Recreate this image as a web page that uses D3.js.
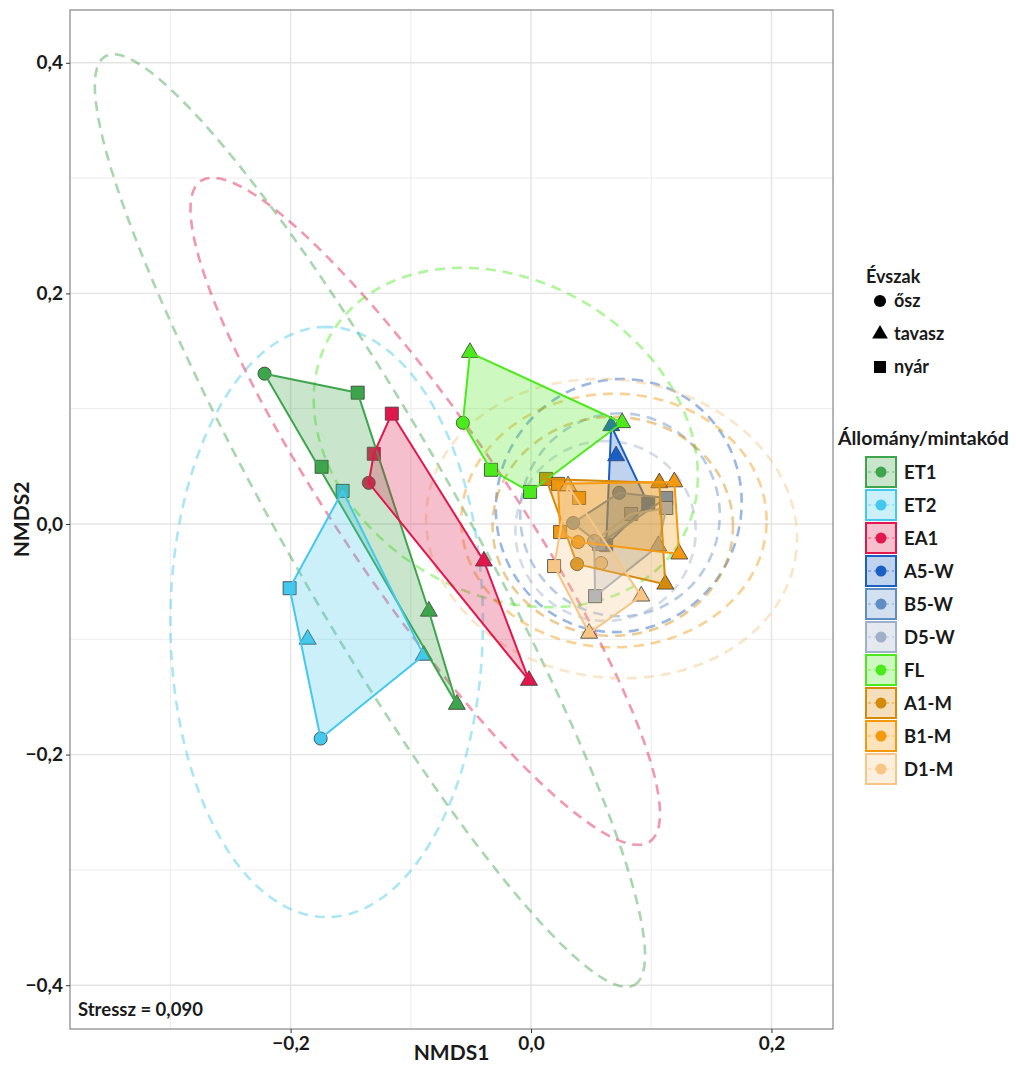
<!DOCTYPE html>
<html>
<head>
<meta charset="utf-8">
<script src="https://cdn.jsdelivr.net/npm/d3@7"></script>
<style>
  body { margin: 0; background: #fff; }
  svg text { font-family: Lato, "Open Sans", sans-serif; font-weight: 700; fill: #1a1a1a; }
</style>
</head>
<body>
<svg id="chart"></svg>
<script>
// 1. DATA *******************************
const groups = ["ET1", "ET2", "EA1", "A5-W", "B5-W", "D5-W", "FL", "A1-M", "B1-M", "D1-M"]
const groupColors = ["#3da54c", "#44c8ee", "#e0184d", "#1a5fc2", "#5f8ec4", "#9fb0c8", "#4cea1c", "#d68a0a", "#f59a10", "#f7c684"]
const seasons = ["ősz", "tavasz", "nyár"]

// one entry per sample
const sampleGroup = [
  "ET1", "ET1", "ET1", "ET1", "ET1",
  "ET2", "ET2", "ET2", "ET2", "ET2",
  "EA1", "EA1", "EA1", "EA1", "EA1",
  "FL", "FL", "FL", "FL", "FL",
  "A5-W", "A5-W", "A5-W", "A5-W",
  "B5-W", "B5-W", "B5-W", "B5-W",
  "D5-W", "D5-W", "D5-W", "D5-W", "D5-W",
  "A1-M", "A1-M", "A1-M", "A1-M",
  "B1-M", "B1-M", "B1-M", "B1-M", "B1-M", "B1-M",
  "D1-M", "D1-M", "D1-M", "D1-M", "D1-M"
]
const sampleSeason = [
  "ősz", "nyár", "nyár", "tavasz", "tavasz",
  "nyár", "nyár", "tavasz", "tavasz", "ősz",
  "nyár", "nyár", "ősz", "tavasz", "tavasz",
  "tavasz", "ősz", "nyár", "nyár", "tavasz",
  "tavasz", "tavasz", "nyár", "nyár",
  "ősz", "ősz", "nyár", "nyár",
  "ősz", "nyár", "nyár", "tavasz", "nyár",
  "nyár", "tavasz", "tavasz", "ősz",
  "nyár", "nyár", "tavasz", "tavasz", "ősz", "nyár",
  "tavasz", "nyár", "ősz", "tavasz", "tavasz"
]
const nmds1 = [
  -0.2217, -0.1442, -0.1742, -0.0850, -0.0617,
  -0.1567, -0.2008, -0.1858, -0.0892, -0.1750,
  -0.1158, -0.1308, -0.1350, -0.0392, -0.0017,
  -0.0508, -0.0567, -0.0333, -0.0008, 0.0758,
  0.0667, 0.0708, 0.0975, 0.0625,
  0.0350, 0.0733, 0.1125, 0.0567,
  0.0525, 0.0833, 0.1125, 0.1058, 0.0533,
  0.0125, 0.1067, 0.1117, 0.0383,
  0.0225, 0.0400, 0.1192, 0.1233, 0.0392, 0.0242,
  0.0308, 0.0192, 0.0583, 0.0917, 0.0483
]
const nmds2 = [
  0.1304, 0.1139, 0.0496, -0.0757, -0.1565,
  0.0287, -0.0557, -0.1000, -0.1139, -0.1861,
  0.0957, 0.0609, 0.0357, -0.0322, -0.1357,
  0.1487, 0.0878, 0.0470, 0.0278, 0.0878,
  0.0852, 0.0591, 0.0174, -0.0183,
  0.0009, 0.0270, 0.0226, -0.0174,
  -0.0148, 0.0087, 0.0139, -0.0191, -0.0626,
  0.0391, 0.0357, -0.0522, -0.0348,
  0.0348, 0.0226, 0.0365, -0.0261, -0.0157, -0.0070,
  0.0330, -0.0365, -0.0339, -0.0626, -0.0948
]

// confidence ellipses per group (same order as groups)
const ellipseCx = [-0.134, -0.170, -0.088, 0.073, 0.074, 0.062, -0.021, 0.068, 0.069, 0.067]
const ellipseCy = [0.003, -0.085, 0.011, 0.016, 0.008, -0.006, 0.075, -0.002, 0.003, -0.004]
const ellipseA = [0.459, 0.256, 0.342, 0.110, 0.088, 0.078, 0.171, 0.100, 0.127, 0.155]
const ellipseB = [0.073, 0.130, 0.070, 0.102, 0.083, 0.075, 0.134, 0.095, 0.110, 0.129]
const ellipseAngle = [-61.4, 90, -57.0, 80, 90, 90, -35, 0, 0, -10]

const xTicks = [-0.2, 0.0, 0.2]
const yTicks = [-0.4, -0.2, 0.0, 0.2, 0.4]
const xMinor = [-0.3, -0.1, 0.1]
const yMinor = [-0.3, -0.1, 0.1, 0.3]
const stressLabel = "Stressz = 0,090"

// 2. CANVAS *******************************
const width = 1016
const height = 1068
const panel = { left: 70, right: 833, top: 10, bottom: 1029 }

const svg = d3.select("#chart")
  .attr("width", width)
  .attr("height", height)

const xScale = d3.scaleLinear().domain([-0.3835, 0.2512]).range([panel.left, panel.right])
const yScale = d3.scaleLinear().domain([-0.438, 0.4458]).range([panel.bottom, panel.top])
const color = d3.scaleOrdinal().domain(groups).range(groupColors)
const shape = d3.scaleOrdinal().domain(seasons).range([d3.symbolCircle, d3.symbolTriangle, d3.symbolSquare])
const shapeSize = { "ősz": 135, "tavasz": 125, "nyár": 170 }

const fmt = v => d3.format(".1f")(v).replace(".", ",").replace("-", "−")

svg.append("defs").append("clipPath").attr("id", "panelClip")
  .append("rect")
  .attr("x", panel.left).attr("y", panel.top)
  .attr("width", panel.right - panel.left).attr("height", panel.bottom - panel.top)

// grid
const grid = svg.append("g")
grid.selectAll(".vmin").data(xMinor).join("line")
  .attr("x1", d => xScale(d)).attr("x2", d => xScale(d))
  .attr("y1", panel.top).attr("y2", panel.bottom)
  .attr("stroke", "#ececec").attr("stroke-width", 1)
grid.selectAll(".hmin").data(yMinor).join("line")
  .attr("y1", d => yScale(d)).attr("y2", d => yScale(d))
  .attr("x1", panel.left).attr("x2", panel.right)
  .attr("stroke", "#ececec").attr("stroke-width", 1)
grid.selectAll(".vmaj").data(xTicks).join("line")
  .attr("x1", d => xScale(d)).attr("x2", d => xScale(d))
  .attr("y1", panel.top).attr("y2", panel.bottom)
  .attr("stroke", "#e4e4e4").attr("stroke-width", 1.4)
grid.selectAll(".hmaj").data(yTicks).join("line")
  .attr("y1", d => yScale(d)).attr("y2", d => yScale(d))
  .attr("x1", panel.left).attr("x2", panel.right)
  .attr("stroke", "#e4e4e4").attr("stroke-width", 1.4)

// 3. DATA LAYERS *******************************
const samples = sampleGroup.map((g, i) => ({ group: g, season: sampleSeason[i], x: nmds1[i], y: nmds2[i] }))
const plot = svg.append("g").attr("clip-path", "url(#panelClip)")

// ellipses
function ellipsePath(i) {
  const th = ellipseAngle[i] * Math.PI / 180
  const pts = d3.range(0, 361, 3).map(deg => {
    const t = deg * Math.PI / 180
    const dx = ellipseA[i] * Math.cos(t) * Math.cos(th) - ellipseB[i] * Math.sin(t) * Math.sin(th)
    const dy = ellipseA[i] * Math.cos(t) * Math.sin(th) + ellipseB[i] * Math.sin(t) * Math.cos(th)
    return [xScale(ellipseCx[i] + dx), yScale(ellipseCy[i] + dy)]
  })
  return d3.line()(pts) + "Z"
}
plot.append("g").selectAll("path").data(groups).join("path")
  .attr("d", (g, i) => ellipsePath(i))
  .attr("fill", "none")
  .attr("stroke", g => color(g))
  .attr("stroke-width", 2.6)
  .attr("stroke-dasharray", "10,7")
  .attr("stroke-opacity", 0.45)

// points
plot.append("g").selectAll("path").data(samples).join("path")
  .attr("transform", d => `translate(${xScale(d.x)},${yScale(d.y)})`)
  .attr("d", d => d3.symbol(shape(d.season), shapeSize[d.season])())
  .attr("fill", d => color(d.group))
  .attr("stroke", "#3a3a3a")
  .attr("stroke-opacity", 0.8)
  .attr("stroke-width", 1)

// hulls
plot.append("g").selectAll("path").data(groups).join("path")
  .attr("d", g => {
    const pts = samples.filter(s => s.group === g).map(s => [xScale(s.x), yScale(s.y)])
    return "M" + d3.polygonHull(pts).join("L") + "Z"
  })
  .attr("fill", g => color(g))
  .attr("fill-opacity", 0.28)
  .attr("stroke", g => color(g))
  .attr("stroke-width", 2)
  .attr("stroke-linejoin", "round")

// panel border
svg.append("rect")
  .attr("x", panel.left).attr("y", panel.top)
  .attr("width", panel.right - panel.left).attr("height", panel.bottom - panel.top)
  .attr("fill", "none").attr("stroke", "#858585").attr("stroke-width", 1.2)

// 4. AXES *******************************
const xAxis = svg.append("g")
  .attr("transform", `translate(0, ${panel.bottom})`)
  .call(d3.axisBottom(xScale).tickValues(xTicks).tickFormat(fmt).tickSize(4).tickPadding(4))
xAxis.select(".domain").remove()
xAxis.selectAll("line").attr("stroke", "#333")
xAxis.selectAll("text").attr("font-size", 19).attr("font-family", null).attr("fill", null)

const yAxis = svg.append("g")
  .attr("transform", `translate(${panel.left}, 0)`)
  .call(d3.axisLeft(yScale).tickValues(yTicks).tickFormat(fmt).tickSize(4).tickPadding(3))
yAxis.select(".domain").remove()
yAxis.selectAll("line").attr("stroke", "#333")
yAxis.selectAll("text").attr("font-size", 19).attr("font-family", null).attr("fill", null)

svg.append("text")
  .attr("x", (panel.left + panel.right) / 2).attr("y", 1060)
  .attr("text-anchor", "middle").attr("font-size", 21)
  .text("NMDS1")

svg.append("text")
  .attr("transform", `translate(29, ${(panel.top + panel.bottom) / 2}) rotate(-90)`)
  .attr("text-anchor", "middle").attr("font-size", 21)
  .text("NMDS2")

svg.append("text")
  .attr("x", 78).attr("y", 1016)
  .attr("font-size", 18.5)
  .text(stressLabel)

// 5. LEGENDS *******************************
const legS = svg.append("g")
legS.append("text").attr("x", 866).attr("y", 283).attr("font-size", 18).text("Évszak")
const sY = [301, 334, 367]
seasons.forEach((s, i) => {
  legS.append("path")
    .attr("transform", `translate(880, ${sY[i]})`)
    .attr("d", d3.symbol(shape(s), shapeSize[s] * 0.85)())
    .attr("fill", "#000")
  legS.append("text").attr("x", 894).attr("y", sY[i] + 6).attr("font-size", 18).text(s)
})

const legG = svg.append("g")
legG.append("text").attr("x", 838).attr("y", 445).attr("font-size", 19.5).text("Állomány/mintakód")
groups.forEach((g, i) => {
  const cy = 472 + i * 33
  legG.append("rect")
    .attr("x", 866).attr("y", cy - 15).attr("width", 30).attr("height", 30)
    .attr("fill", color(g)).attr("fill-opacity", 0.28)
    .attr("stroke", color(g)).attr("stroke-width", 2)
  legG.append("line")
    .attr("x1", 868).attr("x2", 894).attr("y1", cy).attr("y2", cy)
    .attr("stroke", color(g)).attr("stroke-opacity", 0.45)
    .attr("stroke-width", 1.5).attr("stroke-dasharray", "3,3")
  legG.append("circle")
    .attr("cx", 881).attr("cy", cy).attr("r", 5.5)
    .attr("fill", color(g))
  legG.append("text").attr("x", 904).attr("y", cy + 6.5).attr("font-size", 18.5).text(g)
})
</script>
</body>
</html>
